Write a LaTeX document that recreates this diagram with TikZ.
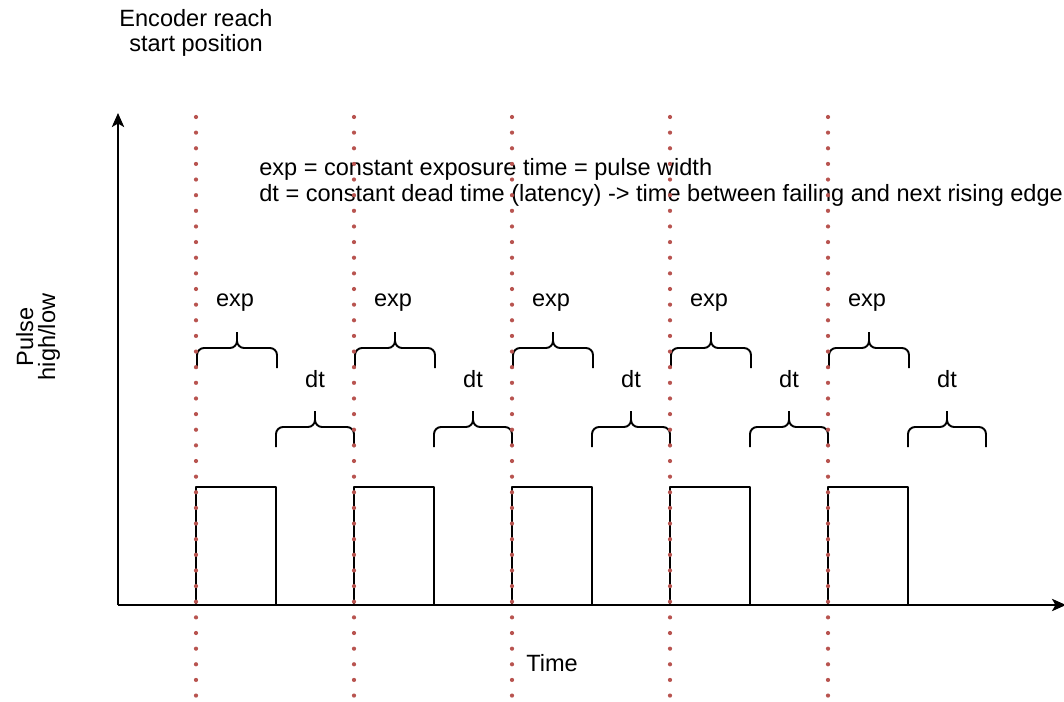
\documentclass[tikz,border=0pt]{standalone}
\usepackage{fontspec}
\setmainfont{Liberation Sans}
\usetikzlibrary{arrows.meta}
\definecolor{edgered}{HTML}{B85450}
\tikzstyle{every node}=[inner sep=0pt, font=\fontsize{13.4}{14.7}\selectfont]
\tikzset{startline/.style={edgered, line width=2.4pt, line cap=round,
      dash pattern=on 0pt off 8.9pt},
  pulse/.style={line width=1.1pt},
  curly/.style={line width=1.1pt, rounded corners=4pt}}
\newcommand{\bracketmark}[3]{%
  \draw[curly] (#1,#3) -- (#1,#3-20) -- ({(#1+#2)/2},#3-20) -- ({(#1+#2)/2},#3-36);
  \draw[curly] (#2,#3) -- (#2,#3-20) -- ({(#1+#2)/2},#3-20) -- ({(#1+#2)/2},#3-36);}

\begin{document}
\begin{tikzpicture}[x=0.02cm, y=-0.02cm, line join=round]
    \useasboundingbox (0,0) rectangle (1064,702);
    \coordinate (origin) at (118,605);
    \coordinate (ytip) at (118,113);
    \coordinate (xtip) at (1066,605);
    \draw[pulse, -{Stealth[length=8pt,width=7pt,inset=2pt]}] (origin) -- (ytip);
    \draw[pulse, -{Stealth[length=8pt,width=7pt,inset=2pt]}] (origin) -- (xtip);
    \node[align=center] (encoder) at (196,33) {Encoder reach\\start position};
    \node[align=center, rotate=90, font=\fontsize{13.4}{12.5}\selectfont] (level) at (38,337) {Pulse\\high/low};
    \node[anchor=base] (time) at (552,671) {Time};
    \node[anchor=base west] (legexp) at (259,176) {exp = constant exposure time = pulse width};
    \node[anchor=base west] (legdt) at (259,202) {dt = constant dead time (latency) -> time between failing and next rising edge};
    \foreach \x [count=\i] in {196,354,512,670,828} {
      \draw[pulse] (\x,605) -- (\x,487) -- (\x+80,487) -- (\x+80,605);
      \bracketmark{\x+1}{\x+81}{368}
      \bracketmark{\x+80}{\x+158}{447}
      \node[anchor=base] (exp\i) at (\x+39,307) {exp};
      \node[anchor=base] (dt\i) at (\x+119,387) {dt};
      \draw[startline] (\x,117) -- (\x,700);
    }
\end{tikzpicture}
\end{document}
